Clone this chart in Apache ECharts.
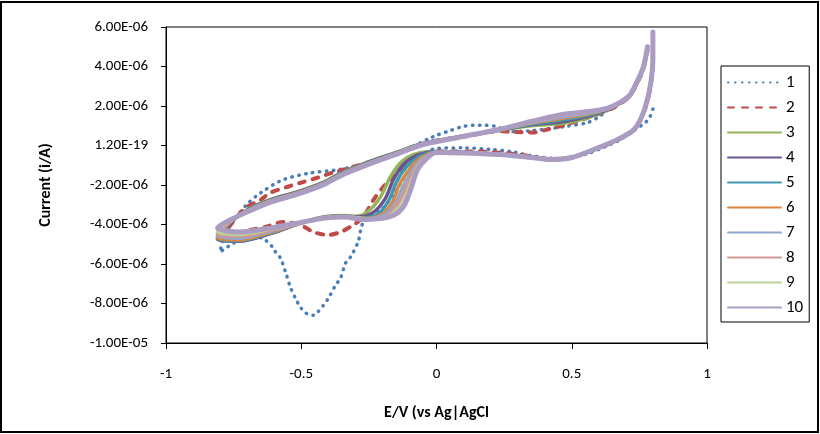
<!DOCTYPE html>
<html>
<head>
<meta charset="utf-8">
<script src="https://cdn.jsdelivr.net/npm/echarts@6/dist/echarts.min.js"></script>
<style>
    html, body { margin: 0; padding: 0; background: #fff; }
    #chart { width: 820px; height: 434px; }
</style>
</head>
<body>
<div id="chart"></div>
<script>
    // potential E (V) vs current (µA)
    // each cycle starts at the +0.8 V vertex, sweeps down to -0.8 V and back up
    var cycle1 = [
        [0.80, 1.85], [0.79, 1.48], [0.773, 1.17], [0.747, 0.92], [0.72, 0.66], [0.68, 0.30], [0.62, -0.08],
        [0.55, -0.45], [0.45, -0.66], [0.35, -0.52], [0.285, -0.33], [0.20, -0.20], [0.10, -0.12], [0.0, -0.15],
        [-0.05, -0.45], [-0.10, -1.20], [-0.15, -2.30], [-0.20, -3.20], [-0.25, -3.70], [-0.27, -3.87],
        [-0.28, -4.27], [-0.29, -4.89], [-0.318, -5.65], [-0.336, -5.95], [-0.355, -6.72], [-0.373, -7.07],
        [-0.40, -7.74], [-0.418, -8.09], [-0.437, -8.40], [-0.455, -8.60], [-0.481, -8.50], [-0.503, -8.19],
        [-0.521, -7.74], [-0.54, -7.18], [-0.558, -6.41], [-0.577, -5.70], [-0.595, -5.39], [-0.606, -5.14],
        [-0.643, -4.70], [-0.70, -4.60], [-0.75, -4.94], [-0.773, -5.14], [-0.80, -5.40],
        [-0.79, -4.80], [-0.76, -4.00], [-0.73, -3.45], [-0.695, -2.90], [-0.65, -2.40], [-0.57, -1.75],
        [-0.47, -1.40], [-0.36, -1.22], [-0.25, -0.87], [-0.13, -0.31], [-0.01, 0.46], [0.05, 0.75],
        [0.10, 0.97], [0.16, 1.03], [0.22, 0.97], [0.27, 0.70], [0.35, 0.75], [0.42, 0.86], [0.48, 0.97],
        [0.56, 1.17], [0.60, 1.45], [0.64, 1.85], [0.71, 2.45], [0.74, 3.15], [0.765, 3.95], [0.78, 4.90]
    ]
    var cycle2 = [
        [0.80, 5.50], [0.80, 4.30], [0.79, 2.90], [0.765, 1.62], [0.73, 0.78], [0.67, 0.28], [0.60, -0.12],
        [0.50, -0.60], [0.42, -0.68], [0.30, -0.45], [0.163, -0.31], [0.0, -0.30], [-0.05, -0.45],
        [-0.10, -0.85], [-0.159, -1.58], [-0.196, -2.09], [-0.233, -2.75], [-0.27, -3.61], [-0.307, -4.02],
        [-0.355, -4.38], [-0.403, -4.53], [-0.455, -4.38], [-0.503, -4.02], [-0.566, -3.87], [-0.632, -4.12],
        [-0.695, -4.30], [-0.75, -4.60], [-0.80, -4.85],
        [-0.76, -4.00], [-0.706, -3.16], [-0.65, -2.75], [-0.614, -2.39], [-0.55, -2.09], [-0.50, -1.88],
        [-0.44, -1.63], [-0.39, -1.40], [-0.30, -1.05], [-0.20, -0.62], [-0.10, -0.15], [0.0, 0.25],
        [0.10, 0.45], [0.23, 0.72], [0.30, 0.68], [0.36, 0.66], [0.41, 0.81], [0.48, 1.07], [0.54, 1.32],
        [0.60, 1.60], [0.66, 1.95], [0.71, 2.45], [0.74, 3.10], [0.765, 3.90], [0.78, 4.80]
    ]
    var cycle3 = [
        [0.80, 5.60], [0.80, 4.40], [0.79, 2.95], [0.765, 1.65], [0.73, 0.80], [0.67, 0.30], [0.60, -0.12],
        [0.50, -0.63], [0.42, -0.72], [0.35, -0.60], [0.23, -0.44], [0.10, -0.34], [0.0, -0.30],
        [-0.033, -0.31], [-0.085, -0.46], [-0.133, -0.87], [-0.17, -1.58], [-0.207, -2.60], [-0.255, -3.36],
        [-0.30, -3.58], [-0.34, -3.55], [-0.42, -3.62], [-0.51, -3.95], [-0.61, -4.40], [-0.73, -4.75],
        [-0.81, -4.60],
        [-0.76, -3.85], [-0.69, -3.18], [-0.61, -2.72], [-0.51, -2.32], [-0.42, -1.87], [-0.35, -1.37],
        [-0.25, -0.82], [-0.15, -0.35], [-0.05, 0.11], [0.05, 0.36], [0.10, 0.48], [0.23, 0.76], [0.35, 1.00],
        [0.47, 1.12], [0.57, 1.45], [0.64, 1.85], [0.71, 2.42], [0.74, 3.10], [0.765, 3.90], [0.78, 4.90]
    ]
    var cycle4 = [
        [0.80, 5.65], [0.80, 4.43], [0.79, 2.96], [0.765, 1.66], [0.73, 0.80], [0.67, 0.30], [0.60, -0.11],
        [0.50, -0.62], [0.42, -0.72], [0.35, -0.60], [0.23, -0.45], [0.10, -0.35], [0.0, -0.31],
        [-0.033, -0.35], [-0.08, -0.55], [-0.125, -1.00], [-0.16, -1.75], [-0.19, -2.70], [-0.235, -3.40],
        [-0.29, -3.62], [-0.34, -3.58], [-0.42, -3.64], [-0.51, -3.97], [-0.61, -4.45], [-0.73, -4.85],
        [-0.81, -4.75],
        [-0.76, -3.88], [-0.69, -3.20], [-0.61, -2.74], [-0.51, -2.34], [-0.42, -1.89], [-0.35, -1.39],
        [-0.25, -0.84], [-0.15, -0.37], [-0.05, 0.10], [0.05, 0.36], [0.10, 0.48], [0.23, 0.77], [0.35, 1.05],
        [0.47, 1.22], [0.57, 1.52], [0.64, 1.87], [0.71, 2.44], [0.74, 3.12], [0.765, 3.92], [0.78, 4.92]
    ]
    var cycle5 = [
        [0.80, 5.68], [0.80, 4.45], [0.79, 2.97], [0.765, 1.66], [0.73, 0.80], [0.67, 0.30], [0.60, -0.11],
        [0.50, -0.62], [0.42, -0.71], [0.35, -0.60], [0.23, -0.45], [0.10, -0.36], [0.0, -0.32],
        [-0.033, -0.40], [-0.075, -0.65], [-0.115, -1.15], [-0.15, -1.90], [-0.175, -2.75], [-0.215, -3.45],
        [-0.27, -3.66], [-0.34, -3.60], [-0.42, -3.65], [-0.51, -3.97], [-0.61, -4.42], [-0.73, -4.82],
        [-0.81, -4.70],
        [-0.76, -3.86], [-0.69, -3.22], [-0.61, -2.76], [-0.51, -2.36], [-0.42, -1.91], [-0.35, -1.41],
        [-0.25, -0.86], [-0.15, -0.39], [-0.05, 0.09], [0.05, 0.35], [0.10, 0.47], [0.23, 0.78], [0.35, 1.08],
        [0.47, 1.30], [0.57, 1.57], [0.64, 1.89], [0.71, 2.45], [0.74, 3.14], [0.765, 3.94], [0.78, 4.94]
    ]
    var cycle6 = [
        [0.80, 5.70], [0.80, 4.46], [0.79, 2.98], [0.765, 1.67], [0.73, 0.81], [0.67, 0.31], [0.60, -0.10],
        [0.50, -0.61], [0.42, -0.71], [0.35, -0.61], [0.23, -0.45], [0.10, -0.37], [0.0, -0.33],
        [-0.033, -0.45], [-0.07, -0.75], [-0.105, -1.30], [-0.14, -2.05], [-0.16, -2.80], [-0.20, -3.48],
        [-0.26, -3.70], [-0.34, -3.60], [-0.42, -3.66], [-0.51, -3.96], [-0.61, -4.38], [-0.73, -4.78],
        [-0.81, -4.65],
        [-0.76, -3.84], [-0.69, -3.24], [-0.61, -2.78], [-0.51, -2.38], [-0.42, -1.93], [-0.35, -1.43],
        [-0.25, -0.88], [-0.15, -0.40], [-0.05, 0.08], [0.05, 0.35], [0.10, 0.47], [0.23, 0.79], [0.35, 1.12],
        [0.47, 1.38], [0.57, 1.62], [0.64, 1.90], [0.71, 2.46], [0.74, 3.16], [0.765, 3.96], [0.78, 4.96]
    ]
    var cycle7 = [
        [0.80, 5.72], [0.80, 4.47], [0.79, 2.98], [0.765, 1.67], [0.73, 0.81], [0.67, 0.31], [0.60, -0.10],
        [0.50, -0.61], [0.42, -0.71], [0.35, -0.61], [0.23, -0.46], [0.10, -0.37], [0.0, -0.34],
        [-0.033, -0.50], [-0.07, -0.90], [-0.10, -1.50], [-0.13, -2.25], [-0.15, -2.90], [-0.19, -3.50],
        [-0.25, -3.72], [-0.34, -3.61], [-0.42, -3.67], [-0.51, -3.95], [-0.61, -4.33], [-0.73, -4.70],
        [-0.81, -4.55],
        [-0.76, -3.82], [-0.69, -3.26], [-0.61, -2.80], [-0.51, -2.40], [-0.42, -1.95], [-0.35, -1.45],
        [-0.25, -0.90], [-0.15, -0.42], [-0.05, 0.07], [0.05, 0.34], [0.10, 0.47], [0.23, 0.80], [0.35, 1.15],
        [0.47, 1.44], [0.57, 1.66], [0.64, 1.91], [0.71, 2.47], [0.74, 3.17], [0.765, 3.97], [0.78, 4.97]
    ]
    var cycle8 = [
        [0.80, 5.73], [0.80, 4.48], [0.79, 2.99], [0.765, 1.67], [0.73, 0.81], [0.67, 0.31], [0.60, -0.10],
        [0.50, -0.61], [0.42, -0.71], [0.35, -0.61], [0.23, -0.46], [0.10, -0.37], [0.0, -0.35],
        [-0.033, -0.54], [-0.07, -1.00], [-0.10, -1.75], [-0.125, -2.50], [-0.145, -3.00], [-0.18, -3.53],
        [-0.24, -3.73], [-0.34, -3.61], [-0.42, -3.67], [-0.51, -3.94], [-0.61, -4.28], [-0.73, -4.60],
        [-0.81, -4.45],
        [-0.76, -3.80], [-0.69, -3.27], [-0.61, -2.82], [-0.51, -2.42], [-0.42, -1.97], [-0.35, -1.47],
        [-0.25, -0.92], [-0.15, -0.43], [-0.05, 0.06], [0.05, 0.34], [0.10, 0.46], [0.23, 0.80], [0.35, 1.17],
        [0.47, 1.50], [0.57, 1.69], [0.64, 1.92], [0.71, 2.48], [0.74, 3.18], [0.765, 3.98], [0.78, 4.98]
    ]
    var cycle9 = [
        [0.80, 5.74], [0.80, 4.49], [0.79, 2.99], [0.765, 1.68], [0.73, 0.81], [0.67, 0.31], [0.60, -0.10],
        [0.50, -0.61], [0.42, -0.71], [0.35, -0.61], [0.23, -0.46], [0.10, -0.38], [0.0, -0.35],
        [-0.033, -0.58], [-0.07, -1.10], [-0.098, -2.00], [-0.123, -2.85], [-0.15, -3.30], [-0.175, -3.58],
        [-0.23, -3.74], [-0.34, -3.62], [-0.42, -3.68], [-0.51, -3.93], [-0.61, -4.22], [-0.73, -4.50],
        [-0.81, -4.35],
        [-0.76, -3.78], [-0.69, -3.28], [-0.61, -2.83], [-0.51, -2.43], [-0.42, -1.98], [-0.35, -1.48],
        [-0.25, -0.93], [-0.15, -0.44], [-0.05, 0.05], [0.05, 0.33], [0.10, 0.46], [0.23, 0.81], [0.35, 1.19],
        [0.47, 1.54], [0.57, 1.71], [0.64, 1.92], [0.71, 2.48], [0.74, 3.19], [0.765, 3.99], [0.78, 4.99]
    ]
    var cycle10 = [
        [0.80, 5.75], [0.80, 4.50], [0.79, 3.00], [0.765, 1.68], [0.73, 0.81], [0.67, 0.31], [0.60, -0.10],
        [0.50, -0.61], [0.42, -0.71], [0.35, -0.61], [0.23, -0.46], [0.10, -0.38], [0.0, -0.36],
        [-0.033, -0.61], [-0.07, -1.22], [-0.096, -2.24], [-0.122, -3.10], [-0.16, -3.55], [-0.21, -3.70],
        [-0.27, -3.75], [-0.34, -3.62], [-0.42, -3.68], [-0.51, -3.92], [-0.61, -4.17], [-0.73, -4.38],
        [-0.81, -4.17],
        [-0.76, -3.75], [-0.69, -3.30], [-0.61, -2.85], [-0.51, -2.45], [-0.42, -2.00], [-0.35, -1.50],
        [-0.25, -0.95], [-0.15, -0.45], [-0.05, 0.05], [0.05, 0.33], [0.10, 0.46], [0.23, 0.81], [0.35, 1.22],
        [0.47, 1.58], [0.57, 1.73], [0.64, 1.93], [0.71, 2.49], [0.74, 3.20], [0.765, 4.00], [0.78, 5.00]
    ]

    var seriesNames = ['1', '2', '3', '4', '5', '6', '7', '8', '9', '10']
    var seriesColors = ['#4a7ebb', '#be4b48', '#94b558', '#6a5390', '#3f98b2', '#dc8740',
        '#90a8cc', '#d39896', '#bcd09a', '#ab9dc2']
    var xTickValues = [-1, -0.5, 0, 0.5, 1]
    var yTickValues = [-10, -8, -6, -4, -2, 0, 2, 4, 6]
    var yTickLabels = ['-1.00E-05', '-8.00E-06', '-6.00E-06', '-4.00E-06', '-2.00E-06',
        '1.20E-19', '2.00E-06', '4.00E-06', '6.00E-06']

    var cycles = [cycle1, cycle2, cycle3, cycle4, cycle5, cycle6, cycle7, cycle8, cycle9, cycle10]
    var font = 'Carlito, Lato, sans-serif'

    var chart = echarts.init(document.getElementById('chart'))

    var series = cycles.map(function (data, i) {
        var lineStyle = { color: seriesColors[i], width: 3.5, cap: 'round', join: 'round' }
        if (i === 0) {
            lineStyle.type = [0.5, 6.5]
        } else if (i === 1) {
            lineStyle.type = [6, 8]
            lineStyle.width = 4
        } else if (i === 9) {
            lineStyle.width = 5
        }
        return {
            name: seriesNames[i],
            type: 'line',
            data: data,
            symbol: 'none',
            smooth: 0.3,
            itemStyle: { color: seriesColors[i] },
            lineStyle: lineStyle
        }
    })

    chart.setOption({
        animation: false,
        backgroundColor: '#fff',
        grid: {
            left: 166,
            right: 113,
            top: 27,
            bottom: 91,
            show: true,
            borderColor: '#000',
            borderWidth: 1
        },
        xAxis: {
            type: 'value',
            min: xTickValues[0],
            max: xTickValues[xTickValues.length - 1],
            interval: 0.5,
            name: 'E/V (vs Ag|AgCl',
            nameLocation: 'middle',
            nameGap: 62,
            nameTextStyle: { fontFamily: font, fontSize: 16, fontWeight: 'bold', color: '#000' },
            axisLine: { onZero: false, lineStyle: { color: '#000', width: 1 } },
            axisTick: { show: true, length: 6, lineStyle: { color: '#000' } },
            axisLabel: { margin: 24, fontFamily: font, fontSize: 15, color: '#000' },
            splitLine: { show: false }
        },
        yAxis: {
            type: 'value',
            min: yTickValues[0],
            max: yTickValues[yTickValues.length - 1],
            interval: 2,
            name: 'Current (i/A)',
            nameLocation: 'middle',
            nameGap: 112,
            nameRotate: 90,
            nameTextStyle: { fontFamily: font, fontSize: 16, fontWeight: 'bold', color: '#000' },
            axisLine: { show: true, onZero: false, lineStyle: { color: '#000', width: 1 } },
            axisTick: { show: true, length: 5, lineStyle: { color: '#000' } },
            axisLabel: {
                margin: 18,
                fontFamily: font,
                fontSize: 15,
                color: '#000',
                formatter: function (v) {
                    return yTickLabels[yTickValues.indexOf(Math.round(v))]
                }
            },
            splitLine: { show: false }
        },
        legend: {
            orient: 'vertical',
            left: 721,
            top: 66,
            padding: [8, 6, 6, 6],
            itemWidth: 53,
            itemHeight: 14,
            itemGap: 8,
            itemTextGap: 3,
            itemStyle: { opacity: 0 },
            borderColor: '#000',
            borderWidth: 1,
            textStyle: { fontFamily: font, fontSize: 17, color: '#000' },
            data: seriesNames
        },
        graphic: [{
            type: 'rect',
            shape: { x: 1, y: 2, width: 817, height: 430 },
            style: { fill: 'none', stroke: '#000', lineWidth: 2 },
            silent: true
        }],
        series: series
    })
</script>
</body>
</html>
